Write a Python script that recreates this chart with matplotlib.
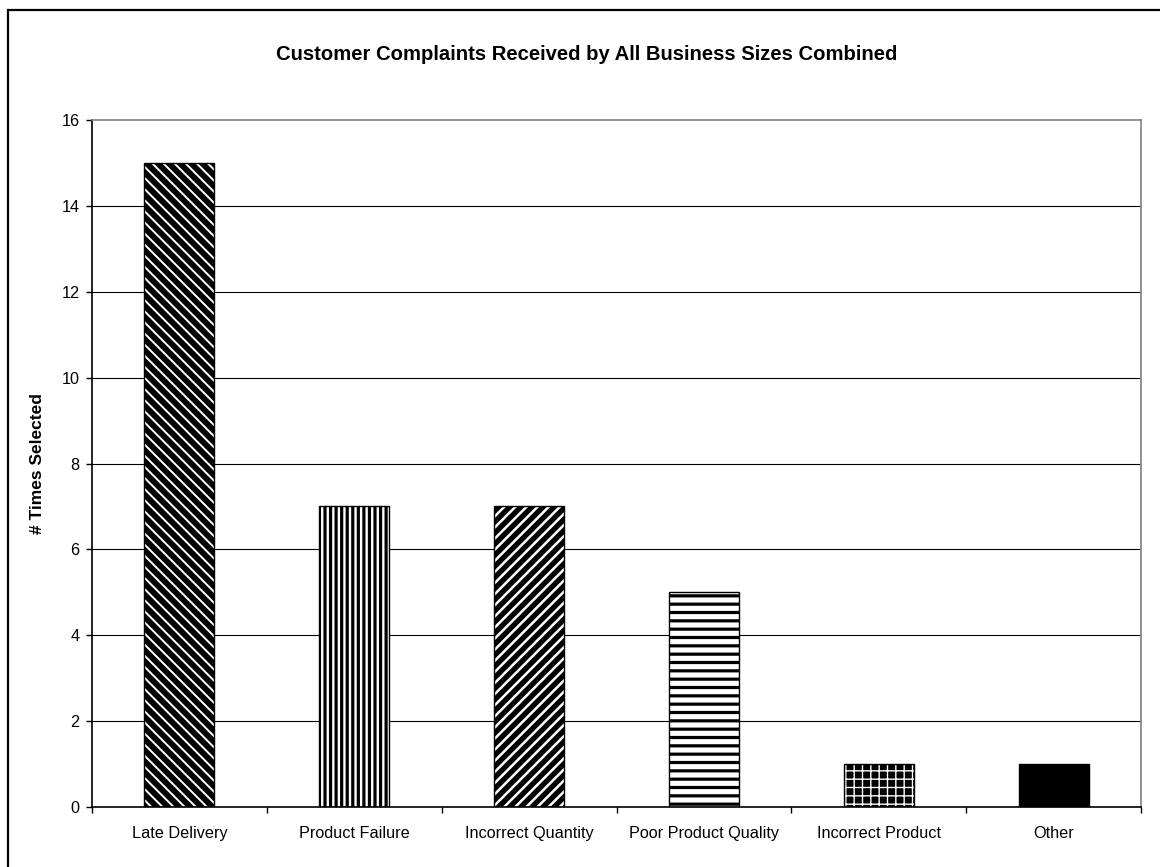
import matplotlib
matplotlib.use('Agg')
import matplotlib.pyplot as plt
from matplotlib.patches import Rectangle

plt.rcParams['font.family'] = ['Liberation Sans', 'DejaVu Sans']

categories = ['Late Delivery', 'Product Failure', 'Incorrect Quantity',
              'Poor Product Quality', 'Incorrect Product', 'Other']
values = [15, 7, 7, 5, 1, 1]

# (background, hatch colour, hatch, hatch linewidth) per bar
styles = [('black', 'white', '\\\\\\', 1.4),
          ('white', 'black', '|||', 2.3),
          ('black', 'white', '///', 1.8),
          ('white', 'black', '--', 2.3),
          ('black', 'white', '++', 1.0),
          ('black', 'black', '', 1.0)]

W, H = 1160, 867
fig = plt.figure(figsize=(W / 100, H / 100), dpi=100)
fig.patch.set_facecolor('white')

# outer chart border (cropped at right/bottom)
fig.add_artist(Rectangle((8 / W, -0.05), 1.2, 1 - 10 / H + 0.05,
                         transform=fig.transFigure, fill=False,
                         edgecolor='black', linewidth=1.6))

left, right, top, bottom = 92, 1141, 120, 807
ax = fig.add_axes([left / W, 1 - bottom / H, (right - left) / W, (bottom - top) / H])

x = [i + 0.5 for i in range(len(categories))]
bw = 0.4
for xi, v, (bg, hc, hatch, hlw) in zip(x, values, styles):
    with plt.rc_context({'hatch.linewidth': hlw}):
        b = ax.bar(xi, v, bw, color=bg, edgecolor=hc, hatch=hatch,
                   linewidth=0, zorder=2)
        for p in b:
            if hasattr(p, 'set_hatch_linewidth'):
                p.set_hatch_linewidth(hlw)
    ax.bar(xi, v, bw, fill=False, edgecolor='black', linewidth=1.0, zorder=3)

ax.set_xlim(0, 6)
ax.set_ylim(0, 16)
ax.set_yticks(range(0, 17, 2))
ax.set_xticks(x)
ax.set_xticklabels(categories, fontsize=11.7)
ax.set_xticks(range(0, 7), minor=True)
ax.tick_params(axis='x', which='major', length=0, pad=14)
ax.tick_params(axis='x', which='minor', length=4, width=1, direction='out')
ax.tick_params(axis='y', length=4, width=1, direction='out', pad=5, labelsize=11.7)

for yv in range(2, 16, 2):
    ax.axhline(yv, color='black', linewidth=0.8, zorder=1)

ax.spines['left'].set_color('black')
ax.spines['bottom'].set_color('black')
ax.spines['top'].set_color('#808080')
ax.spines['right'].set_color('#808080')
for s in ax.spines.values():
    s.set_linewidth(1.2)

ax.set_ylabel('# Times Selected', fontsize=12.5, fontweight='bold', labelpad=12)
fig.text(587 / W, 1 - 55 / H, 'Customer Complaints Received by All Business Sizes Combined',
         ha='center', va='center', fontsize=14.6, fontweight='bold')

fig.savefig('out.png', dpi=100)
